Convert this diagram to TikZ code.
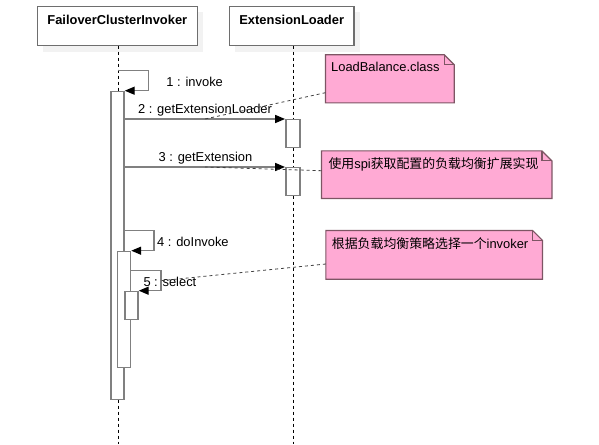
\documentclass[tikz,border=0pt]{standalone}
\usepackage{fontspec}
\setmainfont{Liberation Sans}
\newfontfamily\cjk{Noto Sans CJK SC}
\usetikzlibrary{arrows.meta}
\definecolor{notefill}{RGB}{255,170,212}
\definecolor{notedraw}{RGB}{125,85,100}
\definecolor{linegray}{RGB}{128,128,128}
\definecolor{boxgray}{RGB}{110,110,110}
\definecolor{shadowgray}{RGB}{242,242,242}
\tikzset{
  hdr/.style={draw=boxgray, line width=1.6pt, fill=white, minimum width=160pt, minimum height=39pt, inner sep=0pt},
  hdrtext/.style={font=\fontsize{12.9}{14}\selectfont\bfseries, anchor=base, inner sep=0pt},
  lifeline/.style={draw=black, line width=0.8pt, dash pattern=on 3pt off 3pt},
  act/.style={draw=linegray, line width=1.4pt, fill=white, minimum width=13pt, inner sep=0pt, anchor=north},
  msg/.style={draw=linegray, line width=1.4pt, -{Triangle[length=10pt,width=8pt,color=black,fill=black]}},
  msglabel/.style={font=\fontsize{12.9}{14}\selectfont, inner sep=0pt},
  notebody/.style={draw=notedraw, fill=notefill, line width=1.2pt},
  notetext/.style={font=\fontsize{12.9}{14}\selectfont, inner sep=0pt, anchor=base west},
  notelink/.style={draw=black!75, line width=0.8pt, dash pattern=on 3pt off 3pt},
}
\begin{document}
\begin{tikzpicture}[x=1pt,y=-1pt]
\useasboundingbox (0,0) rectangle (599,444);
% header shadows
\fill[shadowgray] (43,12) rectangle (203,52);
\fill[shadowgray] (235,12) rectangle (360,52);
% headers
\node[hdr] (fci) at (117.5,26.2) {};
\node[hdrtext] (fcit) at (117.3,24.5) {FailoverClusterInvoker};
\node[hdr, minimum width=124.7pt] (el) at (291.7,26.2) {};
\node[hdrtext] (elt) at (291.7,24.5) {ExtensionLoader};
% lifelines
\coordinate (l1top) at (118.3,45.7);
\coordinate (l1end) at (118.3,444);
\coordinate (l2top) at (293.3,45.7);
\coordinate (l2end) at (293.3,444);
\draw[lifeline] (l1top) -- (l1end);
\draw[lifeline] (l2top) -- (l2end);
% activations
\node[act, minimum height=308pt] (a1) at (117.5,90.7) {};
\node[act, minimum width=14pt, minimum height=27.7pt] (a2) at (292.8,119) {};
\node[act, minimum width=14pt, minimum height=28pt] (a3) at (292.8,167) {};
\node[act, minimum height=116pt] (a4) at (124,250.7) {};
\node[act, minimum height=28.3pt] (a5) at (131.5,290.7) {};
% notes
\node[minimum width=128.3pt, minimum height=47.7pt, inner sep=0pt] (n1) at (389.8,78.8) {};
\node[minimum width=230pt, minimum height=47.3pt, inner sep=0pt] (n2) at (436.7,174.7) {};
\node[minimum width=216.3pt, minimum height=48.3pt, inner sep=0pt] (n3) at (434.2,254.8) {};
\foreach \n in {n1,n2,n3}{
  \draw[notebody] (\n.north west) -- ([xshift=-10pt]\n.north east) -- ([yshift=-10pt]\n.north east) -- (\n.south east) -- (\n.south west) -- cycle;
  \draw[draw=notedraw, line width=1.2pt] ([xshift=-10pt]\n.north east) -- ([xshift=-10pt,yshift=-10pt]\n.north east) -- ([yshift=-10pt]\n.north east);
}
\node[notetext] (n1t) at (331,71.7) {LoadBalance.class};
\node[notetext] (n2t) at (328.3,168.3) {{\cjk 使用}spi{\cjk 获取配置的负载均衡扩展实现}};
\node[notetext] (n3t) at (331.7,248.8) {{\cjk 根据负载均衡策略选择一个}invoker};
% messages
\coordinate (s1a) at (118.3,70.7);
\coordinate (s1b) at (148.3,70.7);
\coordinate (s1c) at (148.3,90.7);
\draw[msg] (s1a) -- (s1b) -- (s1c) -- (a1.north east);
\node[msglabel] (m1) at (194.7,81.5) {1 : invoke};
\draw[msg] (a1.east |- a2.north) -- (a2.north west);
\node[msglabel] (m2) at (205,110.5) {2 : getExtensionLoader};
\draw[msg] (a1.east |- a3.north) -- (a3.north west);
\node[msglabel] (m3) at (205.5,158.5) {3 : getExtension};
\coordinate (s4b) at (154,230.7);
\coordinate (s4c) at (154,250.7);
\draw[msg] (a1.east |- s4b) -- (s4b) -- (s4c) -- (a4.north east);
\node[msglabel, anchor=west] (m4) at (157,241.5) {4 : doInvoke};
\coordinate (s5b) at (161,270.7);
\coordinate (s5c) at (161,290.7);
\draw[msg] (a4.east |- s5b) -- (s5b) -- (s5c) -- (a5.north east);
\node[msglabel, anchor=west] (m5) at (143.3,281.5) {5 : select};
% note links
\coordinate (m2mid) at (205,119);
\coordinate (m3mid) at (205,167);
\coordinate (s5mid) at (161,280.7);
\draw[notelink] (n1.west |- 0,92.7) -- (m2mid);
\draw[notelink] (n2.west |- 0,170.7) -- (m3mid);
\draw[notelink] (n3.west |- 0,264) -- (s5mid);
\end{tikzpicture}
\end{document}
